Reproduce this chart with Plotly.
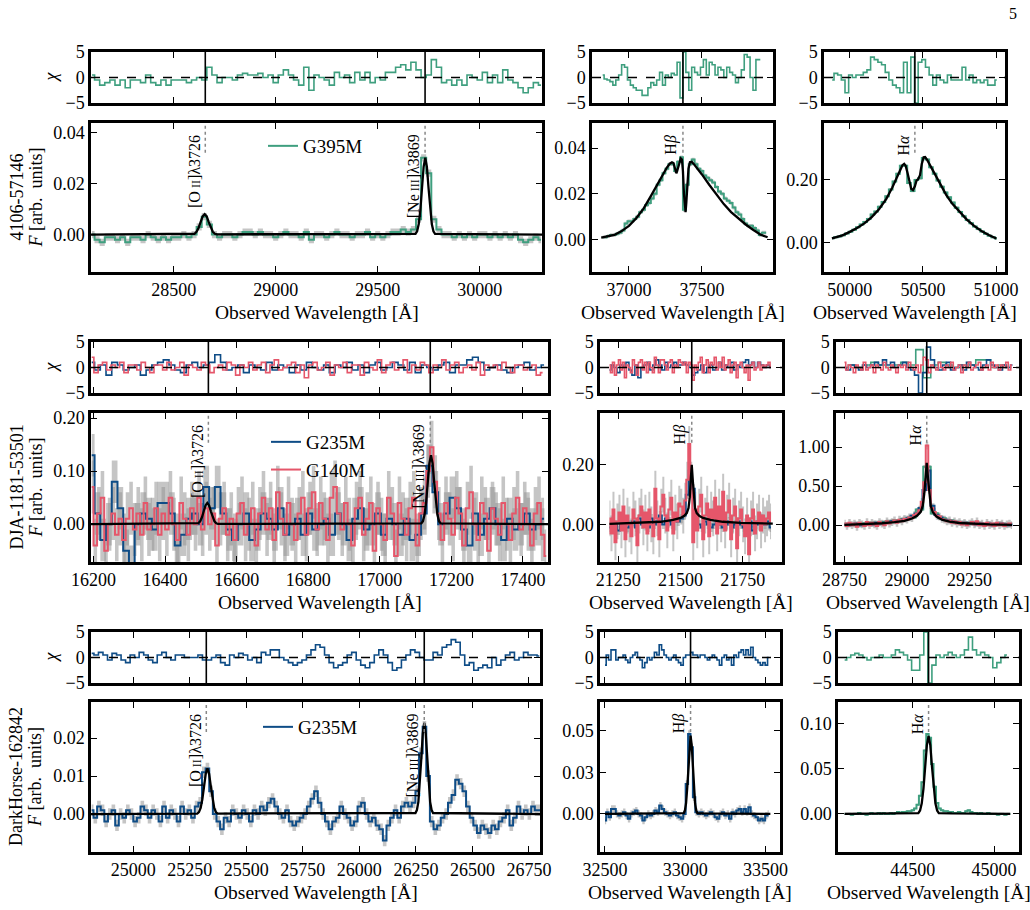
import numpy as np
import plotly.graph_objects as go

W, H = 1030, 910
SERIF = "Liberation Serif, Times New Roman, DejaVu Serif, serif"
GREEN = "#3f9f7f"
BLUE = "#0e4c86"
RED = "#e5566a"
BAND = "rgba(150,150,150,0.55)"

# ======================= DATA =======================
# ---------- Row 1 : 4106-57146 ----------
R1W_X0, R1W_DX = 28100, 25
R1W_FLUX = [0.000, -0.002, -0.003, -0.001, -0.001, -0.002, -0.001, -0.003, -0.001, -0.001,
            -0.002, 0.000, -0.001, -0.002, -0.001, -0.002, -0.001, -0.001, 0.000, -0.001,
            0.000, 0.003, 0.007, 0.004, 0.000, -0.001, 0.000, 0.000, -0.001, 0.000,
            0.001, 0.001, 0.000, 0.001, 0.000, 0.000, -0.001, 0.000, 0.001, 0.000,
            0.000, -0.001, 0.001, -0.002, 0.000, 0.000, -0.001, 0.000, 0.001, 0.000,
            0.000, -0.001, 0.000, 0.000, 0.001, -0.001, 0.000, -0.001, 0.000, 0.001,
            0.001, 0.002, 0.001, 0.002, 0.006, 0.030, 0.024, 0.006, 0.002, 0.000,
            0.000, -0.001, 0.000, -0.001, 0.000, -0.001, 0.000, 0.000, -0.001, 0.000,
            -0.001, 0.000, -0.001, 0.000, -0.002, -0.003, -0.002, -0.001, -0.002]
R1W_ERR = 0.0014
R1W_CHI = [0.5, -0.5, -1.5, -1, -0.5, -1.5, -0.5, -2, -0.5, -0.5, -1, 0.5, -1, -1.5, -0.5,
           -1.5, -0.5, -0.5, -0.5, -1, -0.5, 0, -0.5, 2, 0.5, -1, 0, 0, -0.5, 0.5, 0.8, 0.5,
           0.5, 0.8, 0, 0.5, -1, 0.5, 1.5, 0.5, -0.5, -1.5, 2, -2.5, 0.5, 0, -0.5, -1.5, 1,
           0, 0.5, -1, 1, -0.5, 1, -1, 0, -0.5, 1, 1, 2, 2.5, 1.5, 3, 1.5, 0, 0.5, 3.5, 2,
           -1, -0.5, -1.5, -0.5, -1.5, 0.5, 0, -0.5, 1, -1, 0.5, -1, 1.5, -0.5, -1, -2, -3,
           -2, -1, -1.5]
R1W_MODEL_X = [28095, 28592, 28602, 28612, 28622, 28632, 28642, 28652, 28662, 28672,
               28682, 28692, 28702, 28712,
               29685, 29693, 29701, 29709, 29717, 29725, 29733, 29741, 29749, 29757,
               29765, 29773, 29781, 30305]
R1W_MODEL_Y = [0, 0.0001, 0.00035, 0.0011, 0.0026, 0.0049, 0.0071, 0.008, 0.0071, 0.0049,
               0.0026, 0.0011, 0.00035, 0.0001,
               0.0003, 0.0013, 0.0041, 0.0097, 0.0182, 0.0265, 0.030, 0.0265, 0.0182, 0.0097,
               0.0041, 0.0013, 0.0003, 0]

R1M_X0, R1M_DX = 36820, 20
R1M_FLUX = [0.001, 0.001, 0.0015, 0.002, 0.002, 0.0025, 0.003, 0.004, 0.007, 0.008,
            0.008, 0.009, 0.010, 0.012, 0.013, 0.015, 0.016, 0.018, 0.020, 0.024,
            0.026, 0.029, 0.031, 0.033, 0.033, 0.030, 0.034, 0.036, 0.013, 0.024,
            0.033, 0.035, 0.033, 0.031, 0.030, 0.028, 0.027, 0.026, 0.025, 0.023,
            0.021, 0.020, 0.018, 0.017, 0.016, 0.014, 0.012, 0.011, 0.009, 0.007,
            0.006, 0.006, 0.005, 0.004, 0.002, 0.003, 0.003]
R1M_ERR = 0.0008
R1M_CHI = [0.5, -0.3, -0.5, -0.8, -1.5, -0.5, 0.5, 2.5, 2, -0.5, -1.5, -2, -2.5, -2.5,
           -3.5, -3.5, -2, -1, -1.5, -0.5, 1, -1.5, 0.5, 0, 0.8, 0.5, 3, -4, 5, 1, -2.5,
           2, 1, 0.5, 2, 3.5, 0.5, 3, 2.5, 0.5, 2, 1.5, 0, 2, 1, 0.5, -1, 0, 1.5, 4.5, 4,
           0, -2.5, 3.5, 3.5]
R1M_MODEL_X = [36810, 36850, 36900, 36950, 37000, 37050, 37100, 37150, 37200, 37230,
               37260, 37280, 37295, 37305, 37315, 37325, 37335, 37345, 37355, 37363,
               37370, 37377, 37383, 37388, 37393, 37400, 37408, 37418, 37430, 37445,
               37470, 37500, 37550, 37600, 37650, 37700, 37750, 37800, 37850, 37900, 37950]
R1M_MODEL_Y = [0.0008, 0.0013, 0.002, 0.0037, 0.006, 0.0093, 0.0135, 0.019, 0.025, 0.0285,
               0.0315, 0.0332, 0.0338, 0.0335, 0.031, 0.029, 0.031, 0.034, 0.0355, 0.035,
               0.030, 0.020, 0.013, 0.012, 0.016, 0.024, 0.031, 0.0338, 0.034, 0.033,
               0.031, 0.0285, 0.024, 0.0195, 0.0155, 0.012, 0.0092, 0.0066, 0.0043, 0.0022, 0.001]

R1R_X0, R1R_DX = 49880, 25
R1R_FLUX = [0.015, 0.018, 0.020, 0.024, 0.030, 0.035, 0.042, 0.050, 0.058, 0.066,
            0.076, 0.090, 0.100, 0.115, 0.130, 0.148, 0.170, 0.195, 0.220, 0.245,
            0.245, 0.190, 0.165, 0.200, 0.205, 0.270, 0.265, 0.240, 0.220, 0.198,
            0.178, 0.160, 0.145, 0.128, 0.112, 0.098, 0.085, 0.073, 0.062, 0.052,
            0.044, 0.036, 0.029, 0.023, 0.018, 0.014]
R1R_ERR = 0.004
R1R_CHI = [-0.5, 0.8, 0.5, -0.5, -3, 0.5, 0, 0.5, 0.5, 1, 1.5, 4, 3.5, 3, 2.5, 1, -0.5,
           -1.5, -2, -3, 3, -3, 4, -5, 3, 3.5, 2, 0.5, -1.5, 0.5, -0.5, -1, 0.5, -0.5,
           -0.5, -0.5, 2, -0.5, 0.5, -1, -0.5, -1, -0.5, -1.5, -1.5, -0.5]
R1R_MODEL_X = [49878, 49950, 50000, 50050, 50100, 50150, 50200, 50250, 50290, 50320,
               50345, 50360, 50372, 50382, 50395, 50408, 50420, 50432, 50445, 50456,
               50468, 50480, 50492, 50505, 50515, 50530, 50550, 50580, 50620, 50660,
               50700, 50750, 50800, 50850, 50900, 50950, 51002]
R1R_MODEL_Y = [0.014, 0.024, 0.035, 0.047, 0.062, 0.082, 0.107, 0.140, 0.175, 0.205,
               0.232, 0.247, 0.251, 0.245, 0.222, 0.190, 0.172, 0.168, 0.180, 0.198,
               0.203, 0.215, 0.250, 0.272, 0.273, 0.263, 0.246, 0.220, 0.185, 0.152,
               0.125, 0.098, 0.074, 0.054, 0.038, 0.025, 0.014]

# ---------- Row 2 : DJA-1181-53501 ----------
R2W_BLUE_X0, R2W_BLUE_DX = 16195, 16
R2W_BLUE = [0.13, 0.02, -0.03, 0.00, 0.08, 0.03, -0.05, -0.08, 0.00, 0.02,
            0.01, -0.01, 0.04, 0.04, 0.02, -0.04, -0.02, 0.01, 0.02, 0.00,
            0.07, 0.03, 0.07, 0.02, -0.01, -0.03, 0.00, 0.02, -0.03, -0.01,
            0.02, 0.01, -0.01, 0.03, -0.02, 0.00, 0.01, -0.02, 0.02, -0.01,
            0.00, 0.01, -0.02, 0.02, 0.00, -0.03, 0.01, 0.03, -0.01, 0.00,
            0.02, -0.02, 0.01, 0.00, -0.02, 0.01, -0.03, -0.02, 0.02, 0.11,
            0.06, 0.00, 0.02, 0.05, 0.03, -0.01, -0.04, 0.02, -0.02, 0.01,
            0.03, 0.00, -0.03, 0.01, -0.01, 0.00, 0.02, -0.01, 0.00, 0.01]
R2W_BLUE_ERR = 0.04
R2W_RED_X0, R2W_RED_DX = 16195, 10
R2W_RED = [0.07, -0.04, 0.02, 0.05, -0.05, 0.00, 0.02, -0.02, 0.01, -0.03,
           0.01, 0.03, -0.01, 0.02, -0.02, 0.04, -0.01, 0.00, 0.03, -0.02,
           0.02, -0.01, 0.05, 0.00, -0.03, 0.04, 0.01, -0.02, 0.03, 0.00,
           0.05, -0.01, 0.03, 0.00, 0.02, -0.04, 0.01, 0.03, -0.02, 0.01,
           -0.03, 0.02, 0.04, -0.02, 0.00, 0.03, -0.04, 0.02, 0.05, -0.01,
           0.03, -0.03, 0.06, 0.01, -0.02, 0.04, 0.00, -0.03, 0.02, 0.05,
           -0.02, 0.03, 0.06, -0.01, 0.04, 0.01, -0.03, 0.05, 0.07, 0.02,
           -0.01, 0.04, 0.00, -0.04, 0.03, 0.05, -0.02, 0.01, 0.04, -0.05,
           0.03, 0.00, -0.03, 0.05, 0.02, -0.06, 0.04, 0.01, -0.02, 0.03,
           0.05, -0.04, 0.02, 0.04, 0.10, 0.145, 0.08, 0.02, -0.03, 0.04,
           0.01, -0.02, 0.05, 0.02, -0.04, 0.03, 0.06, 0.00, -0.03, 0.04,
           0.02, -0.05, 0.03, 0.01, -0.02, 0.04, 0.00, -0.03, 0.02, 0.05,
           -0.01, 0.03, 0.00, -0.04, 0.02, 0.04, -0.02, -0.06]
R2W_RED_ERR = 0.05
R2W_CHI_BLUE = [1.0, -0.5, 0.5, -1.5, 1.0, 0.5, -0.5, 0.0, 0.5, -1.5, -0.5, 0.5, 1.0, 1.5,
                0.5, -0.5, -1.0, 0.5, 1.0, 0.0, 0.5, 1.0, 2.5, 1.0, -0.5, 0.0, 0.5, -1.0,
                0.5, 0.0, -0.5, 1.0, -0.5, 0.5, 0.0, -1.0, 0.5, -0.5, 1.0, 0.0, -0.5, 0.5,
                -1.0, 0.5, 0.0, 1.0, -0.5, 0.5, -1.0, 0.5, 1.0, -0.5, 0.0, 1.0, 0.5, -0.5,
                1.0, -1.0, 0.5, 0.0, -0.5, 0.5, 1.0, -1.0, 0.5, 0.5, 1.5, 2.0, 1.0, -0.5,
                0.0, 0.5, -0.5, -1.0, 0.0, 0.5, 1.0, -0.5, 0.0, 0.5]
R2W_CHI_RED_DX = 12
R2W_CHI_RED = [2.0, -1.0, 0.5, 1.0, -0.5, 0.5, 0.0, 1.0, -1.0, 0.5, 0.5, -0.5, 1.0, 0.0,
               -1.0, 0.5, 0.5, -0.5, 1.0, -0.5, 0.0, 1.0, -1.5, 0.5, 0.0, -0.5, 1.0, 0.5,
               -1.0, 0.0, 0.5, -0.5, 1.0, 0.5, -1.5, 0.5, 0.0, 1.0, -0.5, 0.5, 1.0, -1.0,
               0.5, 1.5, -0.5, 0.0, 0.5, 1.0, -1.0, 0.5, -2.0, 0.5, 1.0, -0.5, 0.0, 1.0,
               -1.5, 0.5, 0.0, 1.0, -1.0, 0.5, 0.5, -1.5, 1.0, 0.0, -0.5, 1.5, -1.0, 0.5,
               1.0, -0.5, 0.0, 1.5, -1.0, 0.5, -0.5, 1.0, 0.5, -1.0, 0.5, 0.0, 1.5, -0.5,
               0.5, 1.0, -1.0, 0.0, 0.5, -0.5, 1.0, -1.5, 0.5, 0.0, 0.5, -0.5, 1.0, 0.0,
               -1.0, 0.5, 0.5, -0.5, 0.0, 0.5, -1.5, -1.0]
R2W_MODEL_X = [16193, 16488, 16493, 16498, 16503, 16508, 16513, 16518, 16523, 16528,
               16533, 16538, 16543, 16548,
               17116, 17120.5, 17125, 17129.5, 17134, 17138.5, 17143, 17147.5, 17152,
               17156.5, 17161, 17165.5, 17170, 17470]
R2W_MODEL_Y = [0, 0.0004, 0.0018, 0.0054, 0.013, 0.0243, 0.0353, 0.040, 0.0353, 0.0243,
               0.013, 0.0054, 0.0018, 0.0004,
               0.0014, 0.0057, 0.0176, 0.0422, 0.0788, 0.1147, 0.130, 0.1147, 0.0788,
               0.0422, 0.0176, 0.0057, 0.0014, 0]

R2M_BLUE_X0, R2M_BLUE_DX = 21215, 12
R2M_BLUE = [-0.01, 0.01, 0.00, -0.02, 0.00, 0.01, -0.01, 0.00, 0.01, -0.01,
            0.02, 0.00, 0.01, -0.01, 0.02, 0.00, 0.01, 0.03, 0.00, 0.02,
            0.01, 0.00, 0.02, 0.01, 0.02, 0.03, 0.10, 0.18, 0.12, 0.01,
            0.00, -0.01, 0.01, 0.00, -0.01, 0.00, 0.01, 0.00, -0.01, 0.00,
            0.01, -0.01, 0.00, 0.01, 0.00, -0.01, 0.00, 0.01, -0.02, 0.00,
            0.01, 0.02, 0.00, 0.01, -0.01]
R2M_BLUE_ERR = 0.015
R2M_RED_X0, R2M_RED_DX = 21215, 8
R2M_RED = [0.02, -0.03, 0.05, -0.06, 0.01, 0.04, -0.02, 0.06, -0.05, 0.03,
           0.00, -0.04, 0.05, 0.02, -0.07, 0.03, 0.06, -0.01, 0.04, -0.03,
           0.05, 0.00, -0.04, 0.12, 0.02, -0.05, 0.06, 0.10, 0.03, -0.02,
           0.05, 0.09, -0.03, 0.04, 0.01, 0.07, 0.06, 0.03, 0.08, 0.15,
           0.27, 0.15, -0.06, 0.05, -0.02, 0.06, 0.10, -0.05, 0.03, 0.07,
           -0.04, 0.05, 0.02, 0.09, -0.03, 0.06, 0.00, 0.11, -0.02, 0.04,
           0.08, -0.05, 0.03, 0.06, -0.08, 0.02, 0.05, 0.00, -0.04, 0.03,
           -0.10, 0.02, 0.05, -0.03, 0.01, 0.04, -0.02, 0.03, 0.00, 0.02,
           0.04, 0.01]
R2M_RED_ERR = 0.06
R2M_CHI_BLUE = [-0.5, 0.5, 0.0, -1.0, 0.5, 0.0, 1.0, -0.5, -1.5, 0.5, -2.0, 0.0, 0.5, 1.0,
                -0.5, 0.5, 1.5, 0.5, -0.5, 1.0, 0.0, 0.5, 1.0, 0.5, 0.5, 1.0, 0.5, 0.0,
                -1.5, -1.0, -0.5, 0.5, -1.0, 0.0, 0.5, -0.5, 0.0, 1.0, -0.5, 0.5, 0.0,
                1.0, -0.5, 0.5, 0.0, 1.0, 1.5, 0.5, 1.0, 0.0, 1.0, 0.5, 0.0, 0.5, 0.0]
R2M_CHI_RED = [0.5, -1.0, 1.0, -1.5, 0.5, 1.5, -0.5, 1.0, -2.0, 0.5, 0.0, -1.0, 1.5, 0.5,
               -1.5, 1.0, 1.5, -0.5, 1.0, -1.0, 1.0, 0.0, -1.0, 2.0, 0.5, -1.0, 1.5, 1.5,
               0.5, -0.5, 1.0, 1.5, -1.0, 0.5, 0.0, 1.5, 1.0, 0.5, 1.0, -1.0, 1.0, 0.5,
               -2.5, 0.5, -0.5, 1.0, 2.0, -1.0, 0.5, 1.5, -1.0, 1.0, 0.5, 2.0, -0.5, 1.0,
               0.0, 2.0, -0.5, 0.5, 1.5, -1.0, 0.5, 1.0, -2.0, 0.5, 1.0, 0.0, -1.0, 0.5,
               -2.5, 0.5, 1.0, -0.5, 0.0, 1.0, -0.5, 0.5, 0.0, 0.5, 1.0, 0.0]
R2M_MODEL_X = [21215, 21250, 21350, 21420, 21470, 21500, 21515, 21525, 21532, 21537,
               21541, 21545, 21549, 21553, 21558, 21565, 21575, 21590, 21620, 21670,
               21740, 21870]
R2M_MODEL_Y = [0.002, 0.003, 0.005, 0.009, 0.015, 0.022, 0.029, 0.038, 0.055, 0.09,
               0.15, 0.20, 0.15, 0.09, 0.055, 0.038, 0.029, 0.022, 0.015, 0.009,
               0.005, 0.003]

R2R_BLUE_X0, R2R_BLUE_DX = 28750, 16
R2R_BLUE = [0.01, 0.00, 0.01, 0.02, 0.00, 0.01, 0.02, 0.01, 0.03, 0.02,
            0.03, 0.04, 0.05, 0.05, 0.06, 0.08, 0.09, 0.12, 0.15, 0.22,
            0.45, 0.70, 0.25, 0.13, 0.10, 0.07, 0.06, 0.05, 0.04, 0.03,
            0.03, 0.02, 0.03, 0.01, 0.02, 0.01, 0.02, 0.00, 0.01, 0.02,
            0.01, 0.00, 0.01]
R2R_BLUE_ERR = 0.03
R2R_RED_X0, R2R_RED_DX = 28750, 10
R2R_RED = [0.02, -0.01, 0.03, 0.00, 0.02, -0.02, 0.03, 0.01, -0.01, 0.04,
           0.00, 0.03, 0.01, -0.01, 0.04, 0.02, 0.00, 0.05, 0.02, 0.04,
           0.06, 0.03, 0.07, 0.05, 0.08, 0.07, 0.10, 0.09, 0.13, 0.15,
           0.19, 0.30, 0.55, 1.02, 0.45, 0.22, 0.17, 0.12, 0.11, 0.08,
           0.07, 0.05, 0.06, 0.03, 0.05, 0.02, 0.04, 0.01, 0.03, 0.00,
           0.02, 0.04, 0.01, 0.05, 0.00, 0.02, -0.01, 0.03, 0.00, 0.02,
           -0.01, 0.03, 0.00, 0.02, -0.01, 0.01, 0.02, 0.00]
R2R_RED_ERR = 0.05
R2R_GREEN_X0, R2R_GREEN_DX = 28750, 30
R2R_GREEN = [0.01, 0.01, 0.02, 0.02, 0.03, 0.04, 0.05, 0.06, 0.08, 0.10, 0.20, 0.75,
             0.15, 0.09, 0.06, 0.04, 0.03, 0.02, 0.02, 0.01, 0.01, 0.01, 0.01]
R2R_GREEN_ERR = 0.02
R2R_CHI_BLUE = [0.0, -0.5, 0.5, 0.0, -0.5, 0.5, 0.0, 0.5, 1.0, 0.5, 1.5, 0.5, 1.0, 0.0,
                0.5, 1.0, 0.0, -0.5, -1.5, -5.0, -1.0, 4.0, 1.5, 0.0, -0.5, 0.5, 1.0,
                -0.5, 0.0, 0.5, -0.5, 1.0, 0.5, 0.0, -0.5, 0.5, 1.5, 0.5, 0.0, -0.5, 0.5,
                0.0, 0.5]
R2R_CHI_RED = [1.0, -0.5, 0.5, 0.0, -1.0, 0.5, 0.0, -0.5, 1.0, -0.5, 0.0, 0.5, -1.0, 0.5,
               0.0, -0.5, 1.0, 0.0, -0.5, 0.5, 0.0, -1.0, 0.5, 0.0, 0.5, -0.5, 1.0, 0.0,
               -0.5, 0.5, -1.0, 0.5, 2.0, 1.5, -1.0, 0.5, 0.0, -0.5, 1.0, 0.0, -0.5, 0.5,
               0.0, 1.0, -0.5, 0.0, 0.5, -1.0, 0.5, 0.0, 1.0, -0.5, 0.0, 0.5, 1.0, -0.5,
               0.0, 0.5, -0.5, 1.0, 0.0, 0.5, -0.5, 0.5, 0.0, 1.0, -0.5, 0.5]
R2R_CHI_GREEN = [0.0, 0.5, 0.0, 0.5, 1.0, 0.5, 0.0, 0.5, 1.0, 0.5, 3.5, -2.0, 0.5, 1.0,
                 0.5, 0.0, 0.5, 0.5, 1.5, 1.5, 0.0, 0.5, 0.0]
R2R_MODEL_X = [28750, 28800, 28850, 28900, 28950, 28990, 29020, 29040, 29055, 29063,
               29069, 29074, 29079, 29084, 29089, 29095, 29103, 29118, 29140, 29170,
               29210, 29260, 29330, 29420]
R2R_MODEL_Y = [0.005, 0.01, 0.015, 0.025, 0.038, 0.055, 0.085, 0.12, 0.17, 0.25,
               0.40, 0.60, 0.80, 0.60, 0.40, 0.25, 0.17, 0.11, 0.07, 0.045,
               0.028, 0.018, 0.01, 0.005]

# ---------- Row 3 : DarkHorse-162842 ----------
R3W_X0, R3W_DX = 24816, 16
R3W_FLUX = [0.001, -0.001, 0.002, 0.001, -0.002, 0.000, 0.001, -0.003, 0.000, -0.001,
            0.001, 0.000, -0.002, -0.001, 0.002, 0.001, -0.001, 0.001, 0.000, -0.002,
            0.002, -0.001, 0.001, 0.000, -0.002, 0.002, 0.000, 0.001, -0.001, 0.002,
            0.003, 0.011, 0.012, 0.006, 0.000, -0.002, -0.004, -0.001, -0.002, 0.001,
            0.000, -0.001, 0.001, 0.000, -0.002, 0.001, 0.000, 0.002, 0.001, 0.003,
            0.004, 0.002, 0.000, -0.001, 0.001, -0.002, -0.003, -0.002, -0.001, 0.000,
            0.002, 0.004, 0.006, 0.003, 0.000, -0.002, -0.004, -0.002, -0.001, 0.002,
            0.000, -0.001, -0.003, -0.002, 0.002, 0.003, 0.000, -0.002, -0.001, -0.003,
            -0.004, -0.007, -0.003, -0.001, 0.001, -0.001, 0.002, 0.003, 0.002, 0.003,
            0.006, 0.016, 0.023, 0.010, -0.002, -0.004, -0.003, -0.001, 0.000, 0.003,
            0.005, 0.009, 0.008, 0.006, 0.002, -0.001, -0.003, -0.005, -0.003, -0.004,
            -0.005, -0.003, -0.004, -0.002, -0.001, 0.001, -0.003, -0.001, 0.002, 0.000,
            0.001, 0.000, 0.002, 0.001, 0.001]
R3W_ERR = 0.0015
R3W_CHI_DX = 20
R3W_CHI = [0.8, 0.5, 1.0, 0.5, -0.5, 0.8, 0.5, -0.5, -1.0, 0.5,
           0.0, 1.0, 0.5, -0.5, -1.0, 0.5, 1.0, 0.0, -0.5, 0.5,
           0.5, 0.0, 0.0, 0.0, 0.5, -0.5, -0.5, 0.0, 0.5, -1.0,
           -1.5, 0.5, 0.0, 0.8, 0.5, -0.5, 0.0, -1.0, 1.0, 0.5,
           1.5, 1.5, 0.0, -0.5, -1.0, -1.5, -1.0, -0.5, 0.5, 1.5,
           2.5, 2.0, 0.5, -1.0, -2.0, -1.5, -1.0, 0.5, 1.0, -0.5,
           -1.5, -2.0, -1.0, 0.5, 1.5, 0.5, -1.0, -2.5, -2.0, -0.5,
           0.5, 1.5, 1.0, 0.0, -0.5, -0.5, 1.0, 0.5, 2.0, 2.5,
           3.5, 3.0, 0.5, -1.5, -1.0, -2.5, -2.0, -1.5, -2.0, 0.0,
           -1.5, -0.5, 0.5, 1.0, -0.5, 0.0, 1.0, 0.5, 0.5, 0.3]
R3W_MODEL_X = [24813, 25283, 25290.5, 25298, 25305.5, 25313, 25320.5, 25328, 25335.5,
               25343, 25350.5, 25358, 25365.5, 25373,
               26248, 26254.5, 26261, 26267.5, 26274, 26280.5, 26287, 26293.5, 26300,
               26306.5, 26313, 26319.5, 26326, 26800]
R3W_MODEL_Y = [0, 0.00013, 0.0005, 0.0016, 0.0039, 0.0073, 0.0106, 0.012, 0.0106,
               0.0073, 0.0039, 0.0016, 0.0005, 0.00013,
               0.00027, 0.00105, 0.0032, 0.0078, 0.0146, 0.0212, 0.024, 0.0212, 0.0146,
               0.0078, 0.0032, 0.00105, 0.00027, 0]

R3M_X0, R3M_DX = 32500, 15
R3M_FLUX = [-0.004, 0.001, -0.002, 0.003, 0.003, 0.000, -0.001, 0.000, 0.001, -0.001,
            -0.003, 0.000, 0.001, 0.002, 0.000, -0.001, -0.004, -0.002, 0.000, -0.001,
            0.000, 0.002, 0.001, 0.005, 0.003, 0.001, 0.000, -0.001, 0.000, 0.001,
            -0.001, -0.002, -0.003, 0.000, 0.018, 0.048, 0.040, 0.010, 0.001, 0.000,
            0.001, 0.000, -0.001, 0.000, 0.001, 0.000, -0.002, -0.003, 0.000, 0.001,
            -0.001, 0.000, -0.003, 0.001, 0.000, 0.002, 0.003, 0.001, 0.003, 0.001,
            0.004, 0.000, -0.001, -0.002, -0.004, -0.003, -0.004, -0.001, 0.000]
R3M_ERR = 0.0022
R3M_CHI = [-1.5, 0.5, -0.5, 1.5, 1.5, -0.5, 0, 0, 0.5, -0.5, -1, 0, 0.5, 1, 0, -0.5, -2,
           -1, 0, -0.5, 0, 1, 0.5, 2.5, 1.5, 0.5, 0, -0.5, 0, 0.5, -0.5, -1, -1.5, 0, 0.5,
           0.5, 1, 0.5, 0.5, 0, 0.5, 0.5, 0, -0.5, 0, 0.5, 0, -0.5, -1.5, 0, 0.5, -0.5, 0,
           -1.5, 0.5, 0, 1, 1.5, 0.5, 1.5, 0.5, 2, 0, -0.5, -1, -1.5, -1, -1.5, 0]
R3M_MODEL_X = [32500, 32950, 32991, 32998, 33005, 33012, 33019, 33026, 33033, 33040,
               33047, 33054, 33061, 33068, 33075, 33115, 33530]
R3M_MODEL_Y = [0, 0.0003, 0.0005, 0.0021, 0.0064, 0.0153, 0.0285, 0.0415, 0.047, 0.0415,
               0.0285, 0.0153, 0.0064, 0.0021, 0.0005, 0.0003, 0]

R3R_X0, R3R_DX = 44080, 15
R3R_FLUX = [0.000, 0.000, 0.000, -0.001, 0.000, 0.000, 0.001, 0.000, 0.000, -0.001,
            0.000, 0.001, 0.000, 0.000, 0.001, 0.000, 0.001, 0.000, 0.000, 0.001,
            0.000, 0.001, 0.002, 0.001, 0.002, 0.002, 0.003, 0.003, 0.004, 0.006,
            0.010, 0.020, 0.035, 0.070, 0.088, 0.084, 0.055, 0.030, 0.012, 0.006,
            0.004, 0.003, 0.003, 0.002, 0.002, 0.001, 0.001, 0.002, 0.001, 0.001,
            0.003, 0.004, 0.002, 0.001, 0.001, 0.000, 0.001, 0.000, 0.000, 0.001,
            0.000, 0.000, 0.000, -0.001, 0.000, 0.000, -0.001, 0.000, 0.000]
R3R_ERR = 0.0012
R3R_CHI_DX = 25
R3R_CHI = [-0.5, 0.0, 0.5, 0.8, 0.5, 0.0, -0.5, 0.0, 0.0, 0.5, 0.0, 0.0, 0.5, 1.5, 1.0,
           0.5, -0.5, -2.5, -2.5, 0.5, 5.0, -5.0, -1.5, 0.5, 0.0, 0.5, 1.0, 0.5, 0.0, 0.5,
           1.5, 4.0, 1.5, 0.5, 1.0, 0.5, 0.0, -2.0, -1.0, 0.0, 0.5]
R3R_MODEL_X = [44080, 44450, 44534, 44544.5, 44555, 44565.5, 44576, 44586.5, 44597,
               44607.5, 44618, 44628.5, 44639, 44649.5, 44660, 44740, 45100]
R3R_MODEL_Y = [0.0, 0.0005, 0.00095, 0.0038, 0.0116, 0.0279, 0.0522, 0.0759, 0.086,
               0.0759, 0.0522, 0.0279, 0.0116, 0.0038, 0.00095, 0.0005, 0.0]

# Observed line positions per row (Angstrom)
LINES_R1 = [28655, 29732, 37370, 50445]
LINES_R2 = [16521, 17141, 21545, 29079]
LINES_R3 = [25323, 26287, 33033, 44597]
ROW_NAMES = ["4106-57146", "DJA-1181-53501", "DarkHorse-162842"]

LBL_OII = "[O<span style='font-size:12px'> II</span>]λ3726"
LBL_NE = "[Ne<span style='font-size:12px'> III</span>]λ3869"
LBL_HB = "H<i>β</i>"
LBL_HA = "H<i>α</i>"

# ======================= LAYOUT (pixels) =======================
ROW_Y = [(52, 103, 123, 272), (342, 393, 413, 562), (632, 683, 702, 852)]
COL_X = [[(91, 542), (592, 773), (824, 1005)],
         [(91, 548), (600, 782), (836, 1019)],
         [(91, 540), (600, 780), (838, 1019)]]


def steps(x0, dx, vals):
    return x0 + dx * np.arange(len(vals)), np.asarray(vals, float)


PANELS = [
    dict(r=0, c=0, xr=[28095, 30305], yr=[-0.0146, 0.0436],
         xt=[28500, 29000, 29500, 30000], yt=[0, 0.02, 0.04], ytt=["0.00", "0.02", "0.04"],
         series=[(GREEN, R1W_X0, R1W_DX, R1W_FLUX, R1W_ERR, "G395M")],
         chi=[(GREEN, R1W_X0, R1W_DX, R1W_CHI)],
         model=(R1W_MODEL_X, R1W_MODEL_Y), lines=[(LINES_R1[0], LBL_OII), (LINES_R1[1], LBL_NE)]),
    dict(r=0, c=1, xr=[36747, 37987], yr=[-0.0142, 0.051],
         xt=[37000, 37500], yt=[0, 0.02, 0.04], ytt=["0.00", "0.02", "0.04"],
         series=[(GREEN, R1M_X0, R1M_DX, R1M_FLUX, R1M_ERR, None)],
         chi=[(GREEN, R1M_X0, R1M_DX, R1M_CHI)],
         model=(R1M_MODEL_X, R1M_MODEL_Y), lines=[(LINES_R1[2], LBL_HB)]),
    dict(r=0, c=2, xr=[49824, 51061], yr=[-0.0926, 0.381],
         xt=[50000, 50500, 51000], yt=[0, 0.2], ytt=["0.00", "0.20"],
         series=[(GREEN, R1R_X0, R1R_DX, R1R_FLUX, R1R_ERR, None)],
         chi=[(GREEN, R1R_X0, R1R_DX, R1R_CHI)],
         model=(R1R_MODEL_X, R1R_MODEL_Y), lines=[(LINES_R1[3], LBL_HA)]),
    dict(r=1, c=0, xr=[16193, 17470], yr=[-0.0713, 0.2095],
         xt=[16200, 16400, 16600, 16800, 17000, 17200, 17400], yt=[0, 0.1, 0.2],
         ytt=["0.00", "0.10", "0.20"],
         series=[(BLUE, R2W_BLUE_X0, R2W_BLUE_DX, R2W_BLUE, R2W_BLUE_ERR, "G235M"),
                 (RED, R2W_RED_X0, R2W_RED_DX, R2W_RED, R2W_RED_ERR, "G140M")],
         chi=[(BLUE, R2W_BLUE_X0, R2W_BLUE_DX, R2W_CHI_BLUE),
              (RED, R2W_RED_X0, R2W_CHI_RED_DX, R2W_CHI_RED)],
         model=(R2W_MODEL_X, R2W_MODEL_Y), lines=[(LINES_R2[0], LBL_OII), (LINES_R2[1], LBL_NE)]),
    dict(r=1, c=1, xr=[21177, 21907], yr=[-0.126, 0.374],
         xt=[21250, 21500, 21750], yt=[0, 0.2], ytt=["0.00", "0.20"],
         series=[(BLUE, R2M_BLUE_X0, R2M_BLUE_DX, R2M_BLUE, R2M_BLUE_ERR, None),
                 (RED, R2M_RED_X0, R2M_RED_DX, R2M_RED, R2M_RED_ERR, None)],
         chi=[(BLUE, R2M_BLUE_X0, R2M_BLUE_DX, R2M_CHI_BLUE),
              (RED, R2M_RED_X0, R2M_RED_DX, R2M_CHI_RED)],
         model=(R2M_MODEL_X, R2M_MODEL_Y), lines=[(LINES_R2[2], LBL_HB)]),
    dict(r=1, c=2, xr=[28716, 29448], yr=[-0.472, 1.438],
         xt=[28750, 29000, 29250], yt=[0, 0.5, 1.0], ytt=["0.00", "0.50", "1.00"],
         series=[(GREEN, R2R_GREEN_X0, R2R_GREEN_DX, R2R_GREEN, R2R_GREEN_ERR, None),
                 (BLUE, R2R_BLUE_X0, R2R_BLUE_DX, R2R_BLUE, R2R_BLUE_ERR, None),
                 (RED, R2R_RED_X0, R2R_RED_DX, R2R_RED, R2R_RED_ERR, None)],
         chi=[(GREEN, R2R_GREEN_X0, R2R_GREEN_DX, R2R_CHI_GREEN),
              (BLUE, R2R_BLUE_X0, R2R_BLUE_DX, R2R_CHI_BLUE),
              (RED, R2R_RED_X0, R2R_RED_DX, R2R_CHI_RED)],
         model=(R2R_MODEL_X, R2R_MODEL_Y), lines=[(LINES_R2[3], LBL_HA)]),
    dict(r=2, c=0, xr=[24813, 26799], yr=[-0.01, 0.0295],
         xt=[25000, 25250, 25500, 25750, 26000, 26250, 26500, 26750], yt=[0, 0.01, 0.02],
         ytt=["0.00", "0.01", "0.02"],
         series=[(BLUE, R3W_X0, R3W_DX, R3W_FLUX, R3W_ERR, "G235M")],
         chi=[(BLUE, R3W_X0, R3W_CHI_DX, R3W_CHI)],
         model=(R3W_MODEL_X, R3W_MODEL_Y), lines=[(LINES_R3[0], LBL_OII), (LINES_R3[1], LBL_NE)]),
    dict(r=2, c=1, xr=[32469, 33590], yr=[-0.0229, 0.0672],
         xt=[32500, 33000, 33500], yt=[0, 0.025, 0.05], ytt=["0.00", "0.03", "0.05"],
         series=[(BLUE, R3M_X0, R3M_DX, R3M_FLUX, R3M_ERR, None)],
         chi=[(BLUE, R3M_X0, R3M_DX, R3M_CHI)],
         model=(R3M_MODEL_X, R3M_MODEL_Y), lines=[(LINES_R3[2], LBL_HB)]),
    dict(r=2, c=2, xr=[44039, 45154], yr=[-0.042, 0.1234],
         xt=[44500, 45000], yt=[0, 0.05, 0.1], ytt=["0.00", "0.05", "0.10"],
         series=[(GREEN, R3R_X0, R3R_DX, R3R_FLUX, R3R_ERR, None)],
         chi=[(GREEN, R3R_X0, R3R_CHI_DX, R3R_CHI)],
         model=(R3R_MODEL_X, R3R_MODEL_Y), lines=[(LINES_R3[3], LBL_HA)]),
]

# ======================= FIGURE =======================
fig = go.Figure()
layout = {}
annotations = []
shapes = []
TICKFONT = dict(family=SERIF, size=18, color="black")


def nm(i):
    return "" if i == 1 else str(i)


def axis_common():
    return dict(showline=True, linewidth=2.5, linecolor="black", mirror="ticks",
                ticks="inside", ticklen=6, tickwidth=1.3, tickcolor="black",
                showgrid=False, zeroline=False, tickfont=TICKFONT, automargin=False)


legend_names = {0: "legend", 1: "legend2", 2: "legend3"}

for p, P in enumerate(PANELS):
    r, c = P["r"], P["c"]
    x0p, x1p = COL_X[r][c]
    cy0, cy1, fy0, fy1 = ROW_Y[r]
    ic, iff = 2 * p + 1, 2 * p + 2
    xdom = [x0p / W, x1p / W]
    xa = axis_common()
    xa.update(domain=xdom, range=P["xr"], tickvals=P["xt"], showticklabels=False,
              anchor="y" + nm(ic))
    ya = axis_common()
    ya.update(domain=[1 - cy1 / H, 1 - cy0 / H], range=[-5, 5], tickvals=[-5, 0, 5],
              ticktext=["\u22125", "0", "5"], anchor="x" + nm(ic))
    layout["xaxis" + nm(ic)] = xa
    layout["yaxis" + nm(ic)] = ya
    xb = axis_common()
    xb.update(domain=xdom, range=P["xr"], tickvals=P["xt"],
              ticktext=[str(v) for v in P["xt"]], anchor="y" + nm(iff))
    yb = axis_common()
    yb.update(domain=[1 - fy1 / H, 1 - fy0 / H], range=P["yr"], tickvals=P["yt"],
              ticktext=P["ytt"], anchor="x" + nm(iff))
    layout["xaxis" + nm(iff)] = xb
    layout["yaxis" + nm(iff)] = yb

    xc, yc = "x" + nm(ic), "y" + nm(ic)
    xf, yf = "x" + nm(iff), "y" + nm(iff)

    for col, sx0, sdx, vals, err, name in P["series"]:
        x, y = steps(sx0, sdx, vals)
        fig.add_trace(go.Scatter(x=x, y=y - err, mode="lines", line=dict(width=0, shape="hvh"),
                                 xaxis=xf, yaxis=yf, showlegend=False, hoverinfo="skip"))
        fig.add_trace(go.Scatter(x=x, y=y + err, mode="lines", line=dict(width=0, shape="hvh"),
                                 fill="tonexty", fillcolor=BAND,
                                 xaxis=xf, yaxis=yf, showlegend=False, hoverinfo="skip"))
    for col, sx0, sdx, vals, err, name in P["series"]:
        x, y = steps(sx0, sdx, vals)
        fig.add_trace(go.Scatter(x=x, y=y, mode="lines", line=dict(color=col, width=2, shape="hvh"),
                                 xaxis=xf, yaxis=yf, name=name or "",
                                 showlegend=name is not None, legend=legend_names[r]))
    mx, my = P["model"]
    fig.add_trace(go.Scatter(x=mx, y=my, mode="lines",
                             line=dict(color="black", width=2.3, shape="linear"),
                             xaxis=xf, yaxis=yf, showlegend=False))
    for col, sx0, sdx, vals in P["chi"]:
        x, y = steps(sx0, sdx, vals)
        fig.add_trace(go.Scatter(x=x, y=y, mode="lines", line=dict(color=col, width=1.6, shape="hvh"),
                                 xaxis=xc, yaxis=yc, showlegend=False))
    shapes.append(dict(type="line", xref=xc + " domain", yref=yc, x0=0, x1=1, y0=0, y1=0,
                       line=dict(color="black", width=1.5, dash="dash"), layer="above"))
    for wl, lbl in P["lines"]:
        shapes.append(dict(type="line", xref=xc, yref=yc + " domain", x0=wl, x1=wl, y0=0, y1=1,
                           line=dict(color="black", width=1.6), layer="above"))
        shapes.append(dict(type="line", xref=xf, yref=yf + " domain", x0=wl, x1=wl, y0=0.8, y1=1,
                           line=dict(color="#888888", width=1.5, dash="dot"), layer="above"))
        annotations.append(dict(x=wl, y=0.935, xref=xf, yref=yf + " domain", text=lbl,
                                textangle=-90, xanchor="right", yanchor="top", xshift=-1,
                                showarrow=False, font=dict(family=SERIF, size=16, color="black")))
    annotations.append(dict(x=(x0p + x1p) / 2 / W, y=1 - (fy1 + 40) / H, xref="paper", yref="paper",
                            text="Observed Wavelength [Å]", showarrow=False,
                            xanchor="center", yanchor="middle",
                            font=dict(family=SERIF, size=19.5, color="black")))
    if c == 0:
        ymid = 1 - (fy0 + fy1) / 2 / H
        annotations.append(dict(x=16 / W, y=ymid, xref="paper", yref="paper", text=ROW_NAMES[r],
                                textangle=-90, showarrow=False, xanchor="center", yanchor="middle",
                                font=dict(family=SERIF, size=18, color="black")))
        annotations.append(dict(x=35 / W, y=ymid, xref="paper", yref="paper",
                                text="<i>F</i> [arb.  units]",
                                textangle=-90, showarrow=False, xanchor="center", yanchor="middle",
                                font=dict(family=SERIF, size=18, color="black")))
        annotations.append(dict(x=50 / W, y=1 - (cy0 + cy1) / 2 / H, xref="paper", yref="paper",
                                text="<i>χ</i>", textangle=-90, showarrow=False,
                                xanchor="center", yanchor="middle",
                                font=dict(family=SERIF, size=18, color="black")))

annotations.append(dict(x=1013 / W, y=1 - 14 / H, xref="paper", yref="paper", text="5",
                        showarrow=False, xanchor="center", yanchor="middle",
                        font=dict(family=SERIF, size=16, color="black")))

LEG = dict(bgcolor="rgba(0,0,0,0)", font=dict(family=SERIF, size=19, color="black"),
           xanchor="left", yanchor="top", tracegroupgap=0, itemwidth=30)
layout["legend"] = dict(LEG, x=263 / W, y=1 - 127 / H)
layout["legend2"] = dict(LEG, x=266 / W, y=1 - 423 / H)
layout["legend3"] = dict(LEG, x=258 / W, y=1 - 708 / H)

fig.update_layout(width=W, height=H, margin=dict(l=0, r=0, t=0, b=0, autoexpand=False),
                  paper_bgcolor="white", plot_bgcolor="white",
                  font=dict(family=SERIF, color="black"),
                  annotations=annotations, shapes=shapes, **layout)
fig.write_html("out.html")
